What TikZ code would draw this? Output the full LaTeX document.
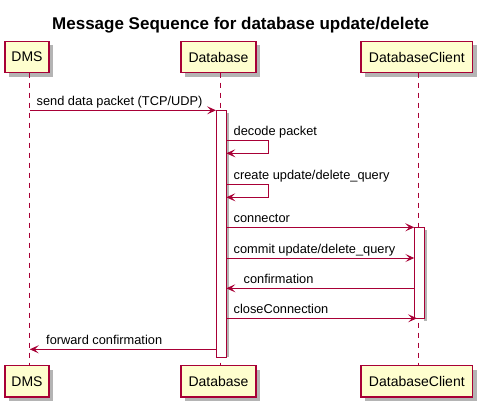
\documentclass[tikz,border=0pt]{standalone}
\usepackage{fontspec}
\setmainfont{Liberation Sans}
\usetikzlibrary{arrows.meta}
\definecolor{pline}{HTML}{A80036}
\definecolor{pfill}{HTML}{FEFECE}
\definecolor{pshadow}{HTML}{B4B4B4}
\tikzset{
  part/.style={draw=pline, fill=pfill, line width=1.2pt, inner sep=0pt, font=\fontsize{14}{16}\selectfont},
  pshade/.style={fill=pshadow, draw=none},
  life/.style={draw=pline, line width=0.9pt, dash pattern=on 5pt off 5pt},
  actbox/.style={draw=pline, fill=white, line width=1pt},
  msg/.style={draw=pline, line width=1pt, -{Stealth[length=9pt,width=8pt,inset=4pt]}},
  mtext/.style={font=\fontsize{12.8}{14}\selectfont, anchor=base west, inner sep=0pt},
}
\begin{document}
\begin{tikzpicture}[x=1pt,y=-1pt]
\useasboundingbox (0,0) rectangle (485,410);
% title
\node[font=\fontsize{17}{20}\selectfont\bfseries, anchor=base, inner sep=0pt] (title) at (240.7,29.5) {Message Sequence for database update/delete};
% shadows of participant boxes
\foreach \xa/\xb in {5/49, 181/256, 361/472.7}{
  \fill[pshade] (\xa+4,41.3+4) rectangle (\xb+4,72.7+4);
  \fill[pshade] (\xa+4,365.5+4) rectangle (\xb+4,397+4);
}
% lifelines (coordinates)
\coordinate (dmsTop) at (29.7,72.7);
\coordinate (dmsBot) at (29.7,365.5);
\coordinate (dbTop) at (220.5,72.7);
\coordinate (dbBot) at (220.5,365.5);
\coordinate (dcTop) at (418.3,72.7);
\coordinate (dcBot) at (418.3,365.5);
\draw[life] (dmsTop) -- (dmsBot);
\draw[life] (dbTop) -- (dbBot);
\draw[life] (dcTop) -- (dcBot);
% participants
\node[part, minimum width=44pt, minimum height=31.4pt] (dmsT) at (27,57) {DMS};
\node[part, minimum width=75pt, minimum height=31.4pt] (dbT) at (218.5,57) {Database};
\node[part, minimum width=111.7pt, minimum height=31.4pt] (dcT) at (416.85,57) {DatabaseClient};
\node[part, minimum width=44pt, minimum height=31.5pt] (dmsB) at (27,381.25) {DMS};
\node[part, minimum width=75pt, minimum height=31.5pt] (dbB) at (218.5,381.25) {Database};
\node[part, minimum width=111.7pt, minimum height=31.5pt] (dcB) at (416.85,381.25) {DatabaseClient};
% activation boxes
\fill[pshadow] (226.3,113) rectangle (229.3,357.3);
\node[actbox, minimum width=10.3pt, minimum height=247pt, inner sep=0pt] (actDb) at (221.15,233.8) {};
\fill[pshadow] (424,230) rectangle (427,321);
\node[actbox, minimum width=9.7pt, minimum height=91pt, inner sep=0pt] (actDc) at (419.15,272.8) {};
% message coordinates
\coordinate (m1a) at (29.7,110.3);
\coordinate (m1b) at (216,110.3);
\coordinate (s1a) at (226.3,140.3);
\coordinate (s1b) at (268.3,140.3);
\coordinate (s1c) at (268.3,153.3);
\coordinate (s1d) at (226.3,153.3);
\coordinate (s2a) at (226.3,184);
\coordinate (s2b) at (268.3,184);
\coordinate (s2c) at (268.3,197.3);
\coordinate (s2d) at (226.3,197.3);
\coordinate (m3a) at (226.3,227.3);
\coordinate (m3b) at (414.3,227.3);
\coordinate (m4a) at (226.3,258);
\coordinate (m4b) at (414.3,258);
\coordinate (m5a) at (414.3,288.3);
\coordinate (m5b) at (226.3,288.3);
\coordinate (m6a) at (226.3,318.3);
\coordinate (m6b) at (417,318.3);
\coordinate (m7a) at (216,349.3);
\coordinate (m7b) at (29.7,349.3);
% messages
\draw[msg] (m1a) -- (m1b);
\node[mtext] (t1) at (36.5,105.5) {send data packet (TCP/UDP)};
\draw[msg] (s1a) -- (s1b) -- (s1c) -- (s1d);
\node[mtext] (t2) at (233.5,135.5) {decode packet};
\draw[msg] (s2a) -- (s2b) -- (s2c) -- (s2d);
\node[mtext] (t3) at (233.5,179.2) {create update/delete\_query};
\draw[msg] (m3a) -- (m3b);
\node[mtext] (t4) at (233.5,222.5) {connector};
\draw[msg] (m4a) -- (m4b);
\node[mtext] (t5) at (233.5,253.2) {commit update/delete\_query};
\draw[msg] (m5a) -- (m5b);
\node[mtext] (t6) at (243.5,283.5) {confirmation};
\draw[msg] (m6a) -- (m6b);
\node[mtext] (t7) at (233.5,313.5) {closeConnection};
\draw[msg] (m7a) -- (m7b);
\node[mtext] (t8) at (46,344.5) {forward confirmation};
\end{tikzpicture}
\end{document}
